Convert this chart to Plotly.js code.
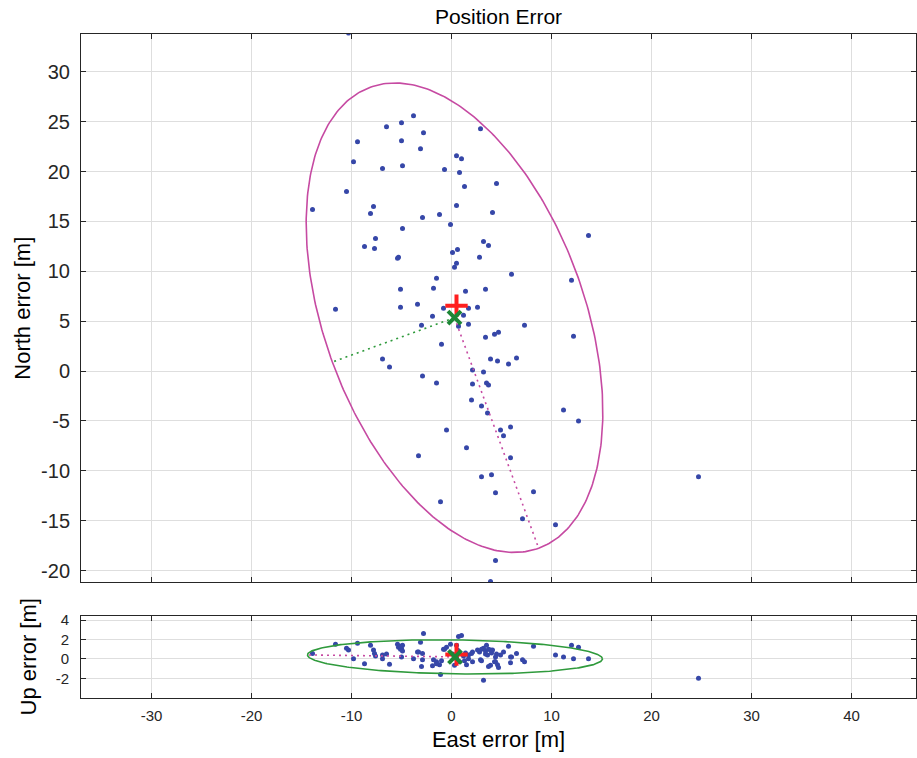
<!DOCTYPE html>
<html>
<head>
<meta charset="utf-8">
<script src="https://cdn.plot.ly/plotly-3.0.1.min.js"></script>
<style>html,body{margin:0;padding:0;background:#fff;}#chart{width:917px;height:758px;}</style>
</head>
<body>
<div id="chart"></div>
<script>
// ---- Data ----
const eastErr = [-10.3,-3.8,-6.5,-5.0,2.9,-2.8,-9.4,-5.0,-3.1,0.5,1.0,-9.8,-6.9,-4.9,-0.7,0.8,4.5,1.3,-10.5,-13.9,
  -7.8,-8.1,0.5,4.1,-2.9,-1.2,-0.1,-4.9,-7.6,3.2,3.7,-8.7,-7.7,0.6,0.1,-5.4,-5.3,2.8,0.5,0.3,
  6.0,-1.5,-1.8,-5.1,3.4,1.4,-11.6,-5.1,-3.4,-0.8,1.7,2.6,-1.9,1.2,1.7,-3.0,7.3,0.7,3.4,4.3,
  4.7,-1.0,-6.9,-6.2,3.9,4.6,5.7,6.5,13.7,12.0,12.2,-2.9,-1.5,2.1,3.2,2.1,3.5,3.7,2.0,3.0,
  3.6,11.2,12.7,-0.5,4.9,5.9,5.2,1.5,-3.3,5.9,3.0,4.0,4.4,8.2,-1.1,7.1,10.4,4.4,3.9,24.7];
const northErr = [33.9,25.6,24.5,24.9,24.3,23.9,23.0,23.1,22.3,21.6,21.3,21.0,20.3,20.6,20.2,19.9,18.8,18.5,18.0,16.2,
  16.5,15.8,16.6,15.9,15.4,15.7,14.7,14.3,13.3,13.0,12.6,12.5,12.3,12.2,11.9,11.3,11.4,11.4,10.8,10.4,
  9.7,9.3,8.3,8.2,8.2,8.0,6.2,6.4,6.7,6.3,6.3,6.4,5.5,5.6,4.7,4.6,4.6,4.5,3.4,3.7,
  3.9,2.7,1.2,0.4,1.2,1.0,0.7,1.3,13.6,9.1,3.5,-0.5,-1.2,0.1,-0.1,-1.3,-1.2,-1.4,-2.9,-3.5,
  -4.2,-3.9,-5.0,-5.9,-5.9,-5.6,-6.5,-7.7,-8.5,-8.7,-10.6,-10.4,-12.2,-12.1,-13.1,-14.8,-15.4,-19.0,-21.1,-10.6];
const upErr = [0.9,0.0,0.5,1.1,-0.1,2.6,1.6,0.2,1.7,1.4,2.4,0.0,0.4,1.4,1.0,-0.3,0.5,-0.2,1.1,0.55,
  0.9,1.4,0.2,0.9,-0.1,-0.6,1.5,0.8,0.3,-2.2,-0.8,-0.5,0.55,0.9,0.5,1.5,1.2,0.7,0.0,-0.65,
  0.2,-0.3,-0.1,1.0,0.5,0.6,1.5,1.3,0.7,1.0,0.0,0.9,-0.7,0.3,0.4,-0.8,-0.3,2.3,0.8,-0.3,
  -0.9,-0.2,0.0,-0.55,-0.65,-0.6,1.3,0.55,0.0,1.4,0.0,0.55,-0.5,0.7,1.1,-0.3,1.4,1.0,0.55,1.0,
  0.4,0.2,1.2,1.2,0.4,-0.4,0.7,-0.6,0.7,0.2,-0.2,0.6,0.2,1.3,-1.6,-0.1,0.4,-0.3,0.9,-2.0];

// Reference markers (red +) and ellipse centres (green x)
const refEN = [0.5, 6.55];
const refEU = [0.5, 0.45];
const ctrEN = [0.3, 5.35];
const ctrEU = [0.35, 0.2];

// Error ellipse parameters: [semi-major, semi-minor, angle of major axis in degrees]
const ellEN = [24.6, 13.0, -70];
const ellEU = [14.75, 1.75, -0.8];

const xTicks = [-30,-20,-10,0,10,20,30,40];
const xTickText = ['-30','-20','-10','0','10','20','30','40'];
const yTicksEN = [-20,-15,-10,-5,0,5,10,15,20,25,30];
const yTickTextEN = ['-20','-15','-10','-5','0','5','10','15','20','25','30'];
const yTicksEU = [-2,0,2,4];
const yTickTextEU = ['-2','0','2','4'];

// ---- helpers ----
function ellipse(c, p) {
  const a = p[0], b = p[1], t = p[2] * Math.PI / 180;
  const xs = [], ys = [];
  for (let i = 0; i <= 360; i++) {
    const s = i * Math.PI / 180;
    xs.push(c[0] + a * Math.cos(s) * Math.cos(t) - b * Math.sin(s) * Math.sin(t));
    ys.push(c[1] + a * Math.cos(s) * Math.sin(t) + b * Math.sin(s) * Math.cos(t));
  }
  return {x: xs, y: ys};
}
// end point of a semi-axis: major (+/-) or minor (rotated -90 deg)
function axisEnd(c, p, which) {
  const t = p[2] * Math.PI / 180;
  if (which === 'major') return [c[0] + p[0] * Math.cos(t), c[1] + p[0] * Math.sin(t)];
  if (which === 'majorNeg') return [c[0] - p[0] * Math.cos(t), c[1] - p[0] * Math.sin(t)];
  const tm = t - Math.PI / 2;
  return [c[0] + p[1] * Math.cos(tm), c[1] + p[1] * Math.sin(tm)];
}

const BLUE = '#3647a8', MAG = '#c64aa2', GRN = '#2f9a3c', DGRN = '#1d8636', RED = '#ff1f1f';
const DOTS = '2px,4px';

const eEN = ellipse(ctrEN, ellEN);
const eEU = ellipse(ctrEU, ellEU);
const majEN = axisEnd(ctrEN, ellEN, 'major');
const minEN = axisEnd(ctrEN, ellEN, 'minor');
const majEU = axisEnd(ctrEU, ellEU, 'majorNeg');

const traces = [
  {type:'scatter', mode:'markers', x:eastErr, y:northErr, xaxis:'x', yaxis:'y',
   marker:{color:BLUE, size:5}, hoverinfo:'x+y', showlegend:false},
  {type:'scatter', mode:'lines', x:eEN.x, y:eEN.y, xaxis:'x', yaxis:'y',
   line:{color:MAG, width:1.6}, showlegend:false, hoverinfo:'skip'},
  {type:'scatter', mode:'lines', x:[ctrEN[0], majEN[0]], y:[ctrEN[1], majEN[1]], xaxis:'x', yaxis:'y',
   line:{color:MAG, width:1.6, dash:DOTS}, showlegend:false, hoverinfo:'skip'},
  {type:'scatter', mode:'lines', x:[ctrEN[0], minEN[0]], y:[ctrEN[1], minEN[1]], xaxis:'x', yaxis:'y',
   line:{color:GRN, width:1.6, dash:DOTS}, showlegend:false, hoverinfo:'skip'},
  {type:'scatter', mode:'markers', x:[refEN[0]], y:[refEN[1]], xaxis:'x', yaxis:'y',
   marker:{symbol:'cross-thin', size:16, line:{color:RED, width:4}}, showlegend:false},
  {type:'scatter', mode:'markers', x:[ctrEN[0]], y:[ctrEN[1]], xaxis:'x', yaxis:'y',
   marker:{symbol:'x-thin', size:13, line:{color:DGRN, width:4}}, showlegend:false},

  {type:'scatter', mode:'markers', x:eastErr, y:upErr, xaxis:'x2', yaxis:'y2',
   marker:{color:BLUE, size:5}, hoverinfo:'x+y', showlegend:false},
  {type:'scatter', mode:'lines', x:eEU.x, y:eEU.y, xaxis:'x2', yaxis:'y2',
   line:{color:GRN, width:1.6}, showlegend:false, hoverinfo:'skip'},
  {type:'scatter', mode:'lines', x:[ctrEU[0], majEU[0]], y:[ctrEU[1], majEU[1]], xaxis:'x2', yaxis:'y2',
   line:{color:MAG, width:1.6, dash:DOTS}, showlegend:false, hoverinfo:'skip'},
  {type:'scatter', mode:'markers', x:[refEU[0]], y:[refEU[1]], xaxis:'x2', yaxis:'y2',
   marker:{symbol:'cross-thin', size:16, line:{color:RED, width:4}}, showlegend:false},
  {type:'scatter', mode:'markers', x:[ctrEU[0]], y:[ctrEU[1]], xaxis:'x2', yaxis:'y2',
   marker:{symbol:'x-thin', size:13, line:{color:DGRN, width:4}}, showlegend:false}
];

const AX = '#262626', GRID = '#dedede', FONT = 'Arial, "Liberation Sans", Helvetica, sans-serif';
const common = {showline:true, linecolor:AX, linewidth:1, mirror:'ticks', ticks:'inside', ticklen:5,
  tickcolor:AX, showgrid:true, gridcolor:GRID, gridwidth:1, zeroline:false, fixedrange:true};

const layout = {
  width:917, height:758,
  margin:{l:81, r:1, t:34, b:60},
  paper_bgcolor:'#fff', plot_bgcolor:'#fff',
  font:{family:FONT, color:AX},
  title:{text:'Position Error', font:{family:FONT, size:21, color:'#000'}, x:0.5, xref:'paper', xanchor:'center',
         y:1 - 17/758, yref:'container', yanchor:'middle'},
  xaxis:Object.assign({}, common, {domain:[0,1], anchor:'y', range:[-37.05, 46.45], tickvals:xTicks, showticklabels:false}),
  yaxis:Object.assign({}, common, {domain:[0.174,1], anchor:'x', range:[-21.2, 33.8], tickvals:yTicksEN,
    ticktext:yTickTextEN, tickfont:{size:20, color:AX}, ticklabelstandoff:6,
    title:{text:'North error [m]', font:{size:22, color:'#000'}, standoff:4}}),
  xaxis2:Object.assign({}, common, {domain:[0,1], anchor:'y2', range:[-37.05, 46.45], tickvals:xTicks,
    ticktext:xTickText, tickfont:{size:15, color:AX}, ticklabelstandoff:4,
    title:{text:'East error [m]', font:{size:22, color:'#000'}, standoff:8}}),
  yaxis2:Object.assign({}, common, {domain:[0,0.1242], anchor:'x2', range:[-4.03, 4.46], tickvals:yTicksEU,
    ticktext:yTickTextEU, tickfont:{size:15, color:AX}, ticklabelstandoff:8,
    title:{text:'Up error [m]', font:{size:22, color:'#000'}, standoff:12}}),
  showlegend:false
};

Plotly.newPlot('chart', traces, layout, {displayModeBar:false, staticPlot:true});
</script>
</body>
</html>
